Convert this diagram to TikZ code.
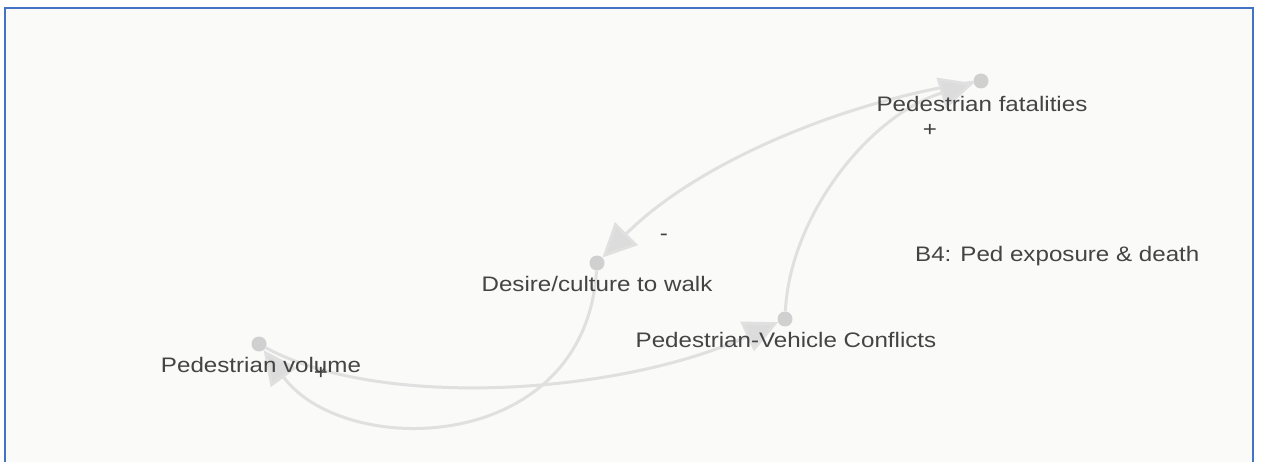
\documentclass[tikz,border=0pt]{standalone}
\usepackage{fontspec}
\setmainfont[FakeStretch=1.15]{Liberation Sans}
\usetikzlibrary{arrows.meta}
\definecolor{frameblue}{HTML}{4472C4}
\definecolor{canvas}{HTML}{FAFAF9}
\definecolor{linkgray}{HTML}{E0E0E0}
\definecolor{headgray}{HTML}{DCDCDC}
\definecolor{dotgray}{HTML}{D0D0D0}
\definecolor{labelgray}{HTML}{444444}
\tikzset{
  element/.style={circle, fill=dotgray, inner sep=0pt, minimum size=15pt},
  elabel/.style={text=labelgray, font=\fontsize{21}{24}\selectfont, inner sep=0pt, anchor=center},
  link/.style={draw=linkgray, line width=3pt,
    -{Triangle[length=34pt,width=32pt,fill=headgray]}},
  polarity/.style={text=black!75, font=\fontsize{21}{24}\selectfont, inner sep=0pt},
}
\begin{document}
\begin{tikzpicture}[x=1pt,y=-1pt]
  % page and canvas with the blue frame
  \fill[white] (0,0) rectangle (1261,462);
  \useasboundingbox (0,0) rectangle (1261,462);
  \fill[canvas] (5,8) rectangle (1253,462);
  \draw[frameblue, line width=2pt] (5,462) -- (5,8) -- (1253,8) -- (1253,462);

  % elements
  \node[element] (pf)  at (981,81)  {};
  \node[element] (dw)  at (597,263) {};
  \node[element] (pv)  at (259,344) {};
  \node[element] (pvc) at (785,319) {};

  % connections
  \draw[link] (pf)  .. controls (850,100) and (700,160) .. (dw);
  \draw[link] (pvc) .. controls (790,215) and (870,115) .. (pf);
  \draw[link] (pv)  .. controls (380,410) and (620,395) .. (pvc);
  \draw[link] (dw)  .. controls (585,455) and (345,460) .. (pv);

  % element labels
  \node[elabel] (pfl)  at (982,104) {Pedestrian fatalities};
  \node[elabel] (dwl)  at (597,284) {Desire/culture to walk};
  \node[elabel] (pvl)  at (261,365) {Pedestrian volume};
  \node[elabel] (pvcl) at (786,340) {Pedestrian-Vehicle Conflicts};
  \node[elabel, anchor=west] (loop) at (915,256) {B4: Ped exposure \& death};

  % polarities
  \node[polarity] (s1) at (930,130) {+};
  \node[polarity] (s2) at (664,237) {-};
  \node[polarity] (s3) at (321,373) {+};
\end{tikzpicture}
\end{document}
